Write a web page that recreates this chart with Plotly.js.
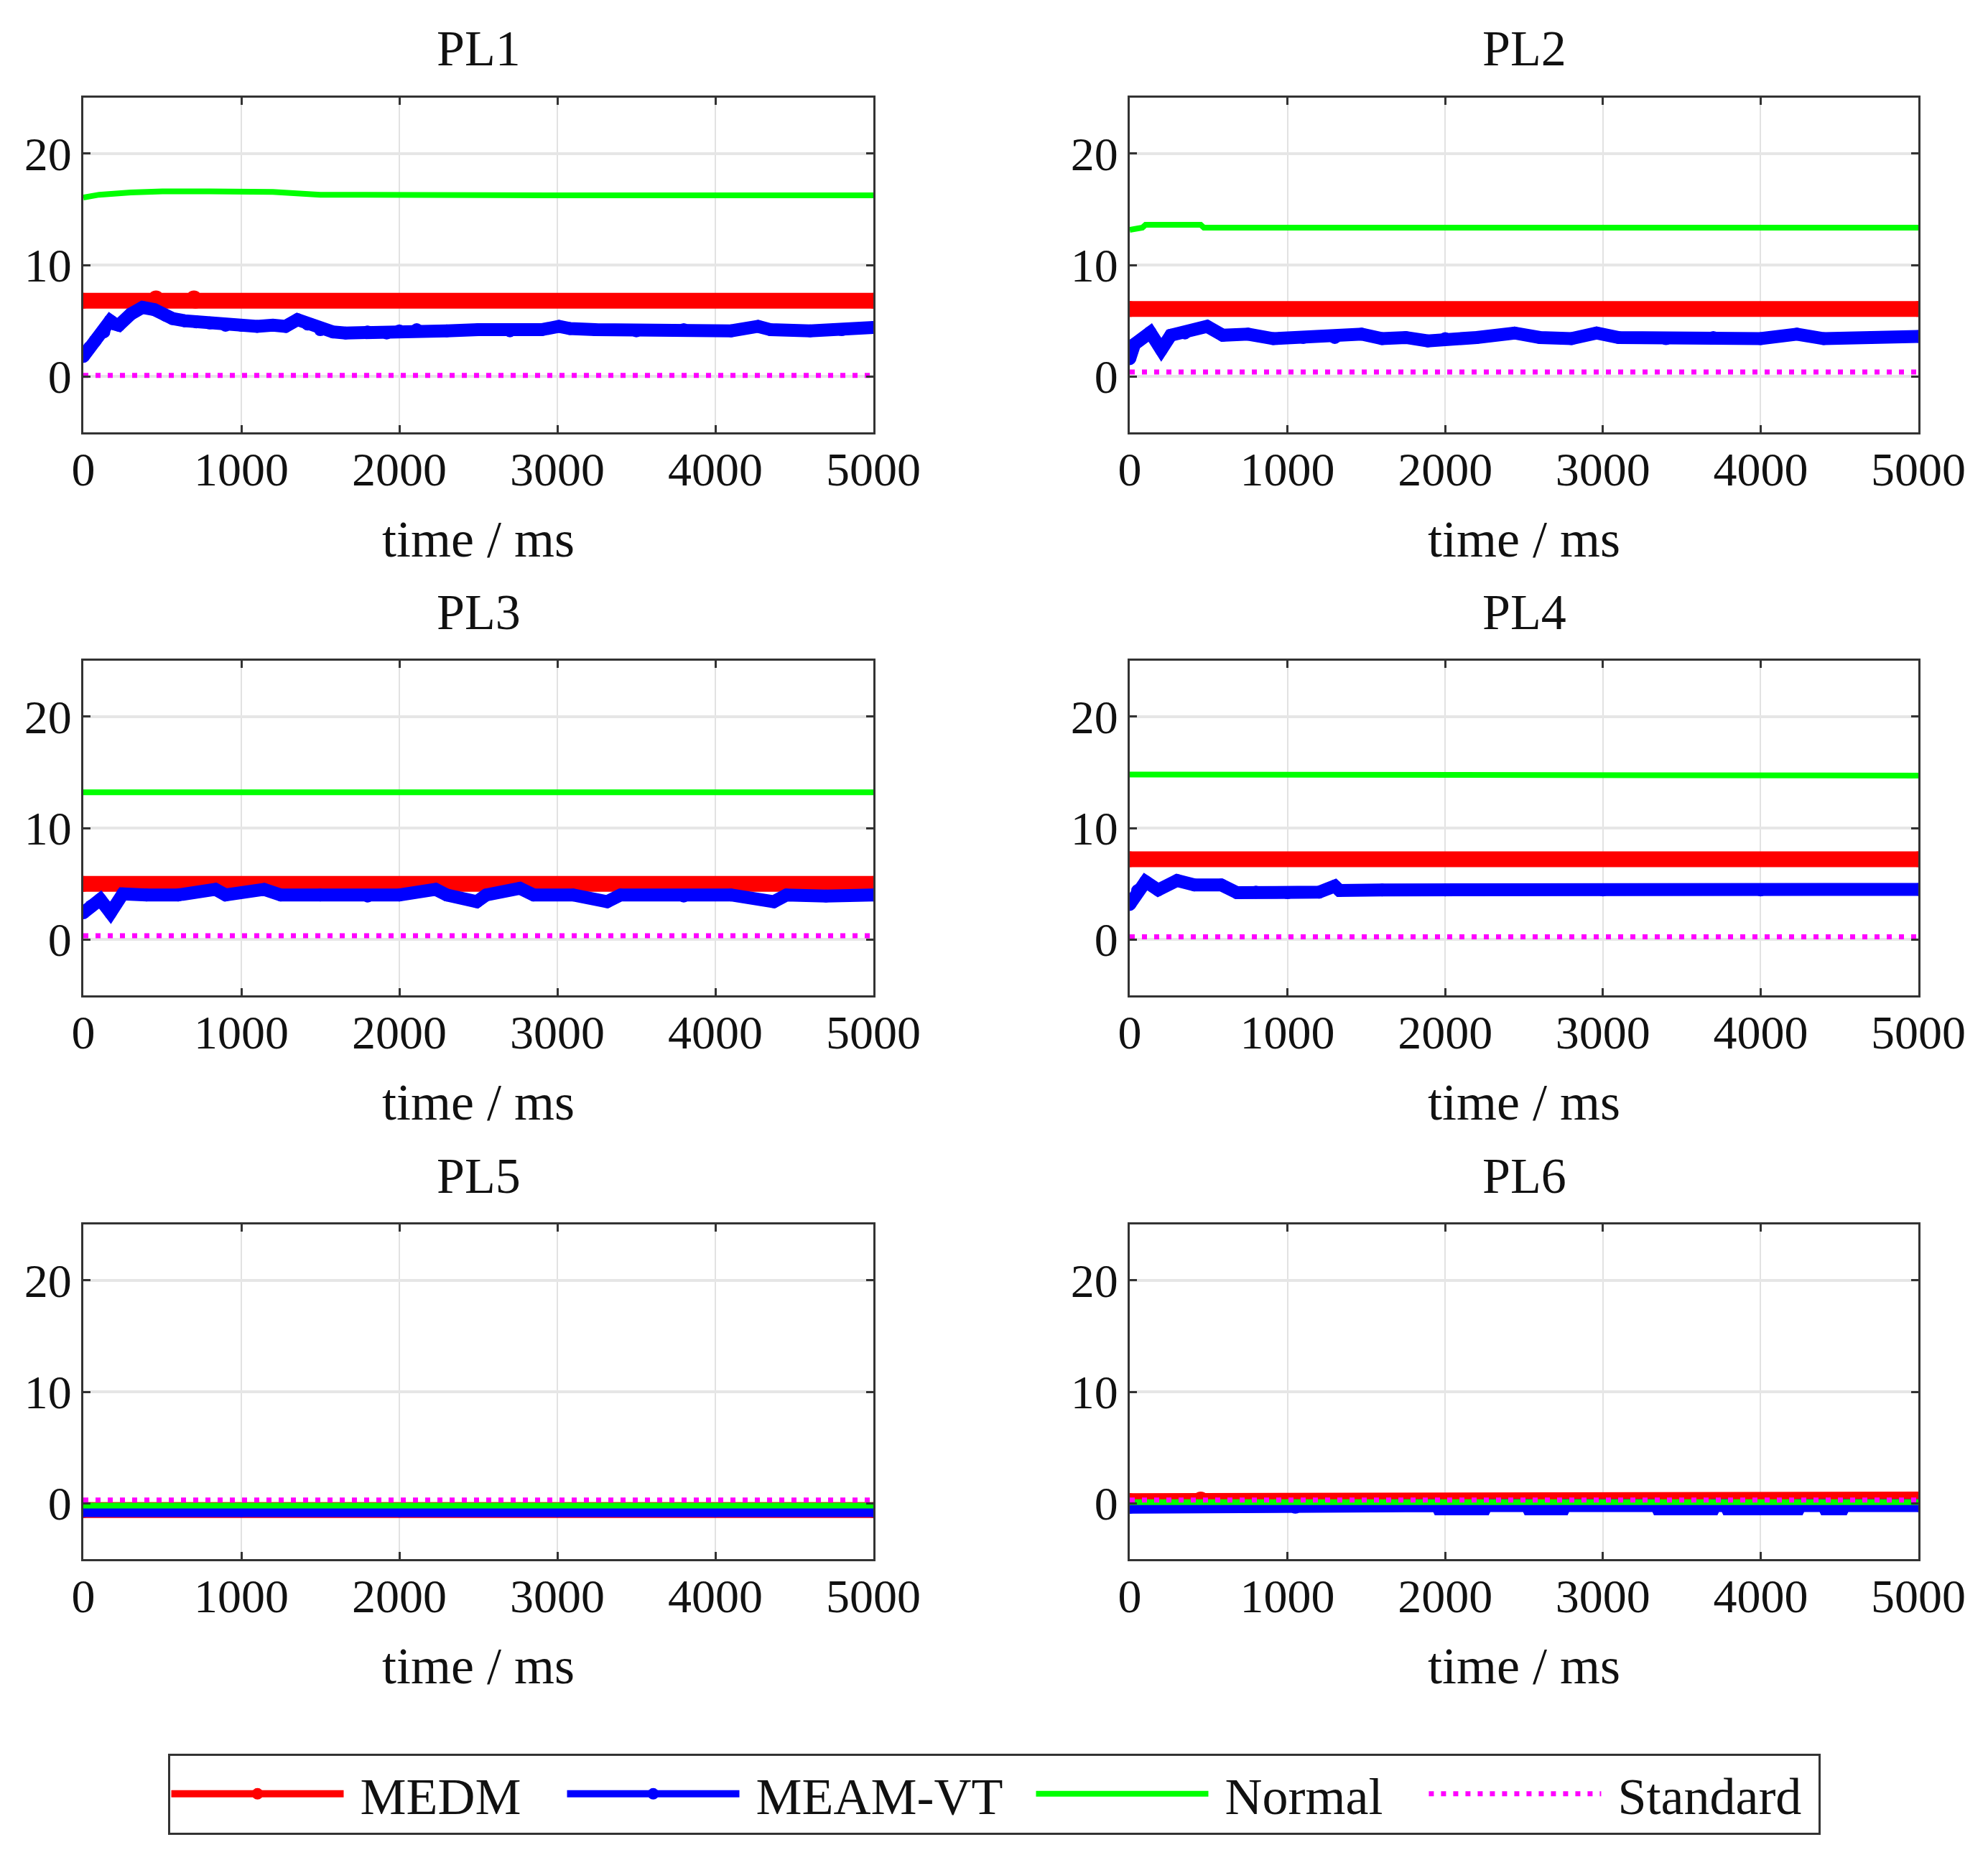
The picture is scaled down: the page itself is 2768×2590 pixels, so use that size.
<!DOCTYPE html>
<html>
<head>
<meta charset="utf-8">
<script src="https://cdn.plot.ly/plotly-3.0.1.min.js"></script>
<style>
  body { margin: 0; background: #fff; }
  #chart { width: 2768px; height: 2590px; }
</style>
</head>
<body>
<div id="chart"></div>
<script>
// panel titles
var panels = ['PL1', 'PL2', 'PL3', 'PL4', 'PL5', 'PL6'];
var seriesNames = ['MEDM', 'MEAM-VT', 'Normal', 'Standard'];

// MEDM (red)
var medmT = [
  [0, 450, 460, 700, 710, 5000],
  [0, 5000],
  [0, 5000],
  [0, 5000],
  [0, 5000],
  [0, 440, 450, 5000]
];
var medmV = [
  [6.8, 6.8, 7.0, 7.0, 6.8, 6.8],
  [6.05, 6.05],
  [5.0, 5.0],
  [7.2, 7.2],
  [-0.6, -0.6],
  [0.2, 0.2, 0.35, 0.35]
];

// MEAM-VT (blue)
var meamT = [
  [0, 40, 75, 130, 170, 200, 225, 300, 375, 450, 520, 565, 640, 715, 800, 900, 1000, 1100, 1200, 1280, 1355, 1420, 1500, 1580, 1660, 1800, 1920, 2000, 2110, 2300, 2500, 2700, 2900, 3010, 3080, 3240, 3500, 3800, 4100, 4270, 4350, 4600, 4800, 5000],
  [0, 30, 130, 200, 260, 350, 490, 590, 750, 910, 1100, 1300, 1470, 1600, 1750, 1890, 2000, 2200, 2440, 2600, 2800, 2960, 3100, 3400, 3700, 4000, 4230, 4400, 4700, 5000],
  [0, 50, 107, 172, 250, 400, 600, 836, 900, 1144, 1250, 1500, 1800, 2000, 2230, 2300, 2490, 2550, 2763, 2850, 3100, 3315, 3400, 3800, 4100, 4370, 4450, 4700, 5000],
  [0, 50, 100, 180, 300, 410, 580, 680, 800, 1000, 1200, 1300, 1330, 1600, 2000, 3000, 4000, 5000],
  [0, 1000, 2000, 3000, 4000, 5000],
  [0, 1050, 1060, 1950, 1960, 2250, 2260, 2520, 2530, 2750, 2760, 3340, 3350, 3700, 3710, 3780, 3790, 4240, 4250, 4400, 4410, 4520, 4530, 5000]
];
var meamV = [
  [1.8, 2.6, 3.2, 4.0, 5.0, 4.7, 4.6, 5.6, 6.2, 6.0, 5.5, 5.2, 5.0, 4.9, 4.8, 4.6, 4.6, 4.5, 4.6, 4.5, 5.1, 4.7, 4.2, 4.0, 3.9, 4.0, 3.9, 4.1, 4.2, 4.1, 4.2, 4.1, 4.2, 4.5, 4.3, 4.2, 4.1, 4.2, 4.1, 4.5, 4.2, 4.1, 4.2, 4.4],
  [1.6, 2.9, 3.95, 2.4, 3.7, 3.9, 4.5, 3.7, 3.8, 3.4, 3.5, 3.5, 3.8, 3.4, 3.5, 3.2, 3.4, 3.5, 3.9, 3.5, 3.4, 3.9, 3.5, 3.4, 3.5, 3.4, 3.8, 3.4, 3.5, 3.6],
  [2.4, 3.0, 3.6, 2.4, 4.1, 4.0, 4.0, 4.5, 4.0, 4.5, 4.0, 4.0, 3.9, 4.0, 4.5, 4.0, 3.4, 4.0, 4.6, 4.0, 4.0, 3.4, 4.0, 3.9, 4.0, 3.4, 4.0, 3.9, 4.0],
  [3.15, 4.4, 5.2, 4.45, 5.3, 4.9, 4.9, 4.2, 4.25, 4.2, 4.25, 4.8, 4.4, 4.45, 4.45, 4.45, 4.45, 4.5],
  [-0.65, -0.65, -0.65, -0.65, -0.65, -0.65],
  [-0.35, -0.35, -0.2, -0.2, -0.5, -0.5, -0.2, -0.2, -0.5, -0.5, -0.2, -0.2, -0.5, -0.5, -0.2, -0.2, -0.5, -0.5, -0.2, -0.2, -0.5, -0.5, -0.2, -0.2]
];

// Normal (green)
var normalT = [
  [0, 100, 300, 500, 800, 1200, 1500, 2000, 3000, 5000],
  [0, 80, 100, 450, 470, 5000],
  [0, 5000],
  [0, 780, 800, 5000],
  [0, 5000],
  [0, 5000]
];
var normalV = [
  [16.05, 16.3, 16.5, 16.6, 16.6, 16.55, 16.3, 16.25, 16.25, 16.25],
  [13.15, 13.35, 13.6, 13.6, 13.35, 13.35],
  [13.2, 13.2],
  [14.8, 14.8, 14.7, 14.7],
  [-0.2, -0.2],
  [0.1, 0.1]
];

// Standard (magenta, dotted)
var standardT = [[0, 5000], [0, 5000], [0, 5000], [0, 5000], [0, 5000], [0, 5000]];
var standardV = [[0.1, 0.1], [0.4, 0.4], [0.35, 0.35], [0.25, 0.25], [0.3, 0.3], [0.3, 0.3]];

var xTicks = [0, 1000, 2000, 3000, 4000, 5000];
var yTicks = [0, 10, 20];

var W = 2768, H = 2590;
var FONT = 'Liberation Serif, Times New Roman, serif';
var colX = [[116, 1216], [1573, 2671]];
var rowY = [[136, 602], [920, 1386], [1705, 2171]];
var NB = '\u00a0';
// legend label padding (gap after the line sample / before the next item)
var padAfter = [NB + NB + NB, NB + NB, NB + NB + NB, NB];

var data = [];
var layout = {
  width: W, height: H,
  margin: {l: 0, r: 0, t: 0, b: 0},
  paper_bgcolor: '#fff', plot_bgcolor: '#fff',
  font: {family: FONT, size: 64, color: '#111'},
  showlegend: true,
  legend: {
    orientation: 'h', x: 0.5, xanchor: 'center', y: 1 - 2498 / H, yanchor: 'middle',
    bordercolor: '#333', borderwidth: 3, bgcolor: '#fff',
    font: {family: FONT, size: 72, color: '#111'},
    itemwidth: 240, tracegroupgap: 0
  },
  annotations: []
};

panels.forEach(function (name, i) {
  var r = Math.floor(i / 2), c = i % 2;
  var xa = 'x' + (i + 1), ya = 'y' + (i + 1);
  var xk = 'xaxis' + (i === 0 ? '' : i + 1), yk = 'yaxis' + (i === 0 ? '' : i + 1);
  layout[xk] = {
    domain: [colX[c][0] / W, colX[c][1] / W], anchor: ya,
    range: [0, 5000], tickvals: xTicks, ticks: 'inside', ticklen: 10, tickwidth: 3, tickcolor: '#333',
    showline: true, linecolor: '#333', linewidth: 3, mirror: 'ticks',
    showgrid: true, gridcolor: '#e2e2e2', gridwidth: 2, zeroline: false,
    tickfont: {family: FONT, size: 66, color: '#111'}, ticklabelstandoff: -8,
    title: {text: 'time / ms', font: {family: FONT, size: 72, color: '#111'}, standoff: 36}
  };
  layout[yk] = {
    domain: [1 - rowY[r][1] / H, 1 - rowY[r][0] / H], anchor: xa,
    range: [-5, 25], tickvals: yTicks, ticks: 'inside', ticklen: 10, tickwidth: 3, tickcolor: '#333',
    showline: true, linecolor: '#333', linewidth: 3, mirror: 'ticks',
    showgrid: true, gridcolor: '#e6e6e6', gridwidth: 4, zeroline: false,
    tickfont: {family: FONT, size: 66, color: '#111'}
  };
  layout.annotations.push({
    text: name, xref: 'paper', yref: 'paper', showarrow: false,
    x: (colX[c][0] + colX[c][1]) / 2 / W, y: 1 - (rowY[r][0] - 68) / H,
    xanchor: 'center', yanchor: 'middle', font: {family: FONT, size: 70, color: '#111'}
  });

  var first = i === 0;
  data.push({
    x: medmT[i], y: medmV[i], xaxis: xa, yaxis: ya, type: 'scatter', mode: 'lines+markers',
    name: NB + seriesNames[0] + padAfter[0], legendgroup: 'a', showlegend: first,
    line: {color: '#ff0000', width: 22}, marker: {color: '#ff0000', size: 22}
  });
  data.push({
    x: meamT[i], y: meamV[i], xaxis: xa, yaxis: ya, type: 'scatter', mode: 'lines+markers',
    name: NB + seriesNames[1] + padAfter[1], legendgroup: 'b', showlegend: first,
    line: {color: '#0000ff', width: 18}, marker: {color: '#0000ff', size: 18}
  });
  data.push({
    x: normalT[i], y: normalV[i], xaxis: xa, yaxis: ya, type: 'scatter', mode: 'lines',
    name: NB + seriesNames[2] + padAfter[2], legendgroup: 'c', showlegend: first,
    line: {color: '#00ff00', width: 8}
  });
  data.push({
    x: standardT[i], y: standardV[i], xaxis: xa, yaxis: ya, type: 'scatter', mode: 'lines',
    name: NB + seriesNames[3] + padAfter[3], legendgroup: 'd', showlegend: first,
    line: {color: '#ff00ff', width: 7, dash: '7px,10px'}
  });
});

Plotly.newPlot('chart', data, layout, {displayModeBar: false, staticPlot: true});
</script>
</body>
</html>
